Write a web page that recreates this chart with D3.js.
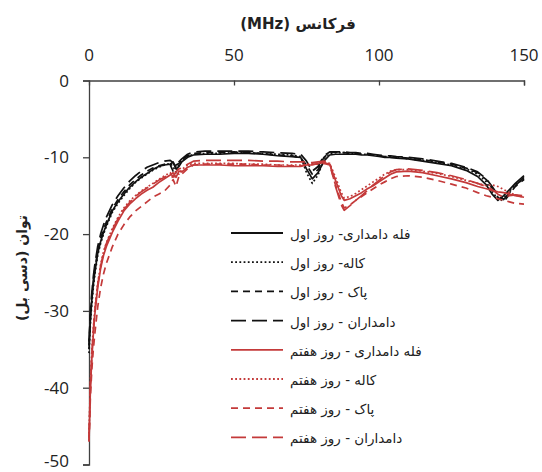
<!DOCTYPE html>
<html>
<head>
<meta charset="utf-8">
<script src="https://cdn.jsdelivr.net/npm/d3@7"></script>
<style>
html,body{margin:0;padding:0;background:#fff;}
svg{display:block;}
</style>
</head>
<body>
<svg id="chart" width="542" height="472"></svg>
<script>
// ---- data ----
const freq = [0,0.5,1,1.5,2,3,4,5,6,8,10,12,14,16,18,20,22,24,26,28,29,30,31,32,34,36,40,45,50,55,60,65,70,73,75,77,79,81,83,85,87,88,90,92,94,96,98,100,102,104,106,110,115,120,125,130,134,137,139,141,143,145,147,150];

const bulkDay1 = [-35,-31,-28.5,-26.5,-25,-22.5,-21,-19.8,-18.8,-17,-15.8,-14.8,-13.9,-13.2,-12.6,-12.1,-11.6,-11.2,-11.0,-10.9,-10.6,-11.5,-11.2,-10.6,-10.0,-9.7,-9.6,-9.6,-9.5,-9.5,-9.6,-9.8,-9.9,-10.0,-11.5,-12.8,-12.0,-10.5,-9.7,-9.6,-9.6,-9.6,-9.6,-9.6,-9.7,-9.7,-9.8,-9.9,-10.0,-10.0,-10.1,-10.2,-10.5,-10.8,-11.1,-11.7,-12.5,-13.6,-14.8,-15.6,-15.0,-14.2,-13.4,-12.4];
const kallehDay1 = [-35.5,-31.5,-29,-27,-25.3,-22.8,-21.2,-20,-19,-17.2,-16,-15,-14.1,-13.3,-12.7,-12.2,-11.7,-11.3,-11.0,-10.8,-11.2,-12.0,-10.9,-10.4,-9.9,-9.6,-9.5,-9.5,-9.4,-9.4,-9.5,-9.6,-9.7,-9.9,-12.0,-13.4,-12.3,-10.2,-9.5,-9.4,-9.4,-9.4,-9.5,-9.5,-9.6,-9.6,-9.7,-9.8,-9.9,-9.9,-10.0,-10.2,-10.4,-10.7,-11.0,-11.5,-12.2,-13.2,-14.5,-15.4,-15.3,-14.4,-13.6,-12.8];
const pakDay1 = [-34.5,-30.5,-28,-26,-24.6,-22.2,-20.6,-19.4,-18.4,-16.7,-15.5,-14.5,-13.6,-12.9,-12.3,-11.8,-11.4,-11.1,-10.9,-11.0,-11.8,-11.0,-10.8,-10.3,-9.8,-9.5,-9.4,-9.4,-9.3,-9.4,-9.5,-9.7,-9.8,-10.1,-11.0,-12.2,-11.6,-10.0,-9.4,-9.3,-9.4,-9.4,-9.5,-9.5,-9.6,-9.6,-9.7,-9.8,-9.9,-10.0,-10.0,-10.1,-10.3,-10.6,-10.9,-11.4,-12.0,-12.9,-14.0,-15.2,-15.8,-14.8,-13.8,-12.9];
const damdaranDay1 = [-34,-30,-27.5,-25.5,-24,-21.6,-20,-18.8,-17.8,-16.2,-15,-14,-13.1,-12.4,-11.8,-11.3,-11.0,-10.7,-10.5,-10.4,-10.7,-11.3,-10.6,-10.2,-9.6,-9.3,-9.2,-9.2,-9.2,-9.2,-9.3,-9.4,-9.5,-9.6,-10.5,-11.8,-11.2,-9.8,-9.3,-9.3,-9.3,-9.3,-9.4,-9.4,-9.5,-9.5,-9.6,-9.7,-9.8,-9.8,-9.9,-10.0,-10.2,-10.5,-10.8,-11.3,-11.9,-12.8,-13.8,-14.9,-15.5,-14.6,-13.7,-12.6];
const bulkDay7 = [-47,-40,-36,-33,-30.5,-27,-24.5,-22.8,-21.6,-19.8,-18.3,-17.0,-16.1,-15.4,-14.8,-14.3,-13.9,-13.3,-12.8,-12.3,-12.0,-12.6,-11.8,-11.9,-11.3,-11.0,-11.0,-11.0,-11.1,-11.1,-11.1,-11.2,-11.2,-11.2,-11.0,-11.0,-10.8,-10.7,-10.9,-13.0,-15.0,-15.6,-15.4,-15.0,-14.6,-14.1,-13.7,-13.2,-12.7,-12.2,-11.9,-11.8,-12.0,-12.4,-12.8,-13.3,-13.8,-14.1,-14.3,-14.5,-14.6,-14.8,-15.0,-15.2];
const kallehDay7 = [-46,-39,-35,-32.2,-29.8,-26.4,-24,-22.3,-21.1,-19.3,-17.8,-16.6,-15.7,-15.0,-14.4,-13.9,-13.4,-12.9,-12.4,-12.0,-12.8,-11.9,-12.2,-11.6,-11.0,-10.8,-10.8,-10.8,-10.8,-10.9,-10.9,-11.0,-11.0,-11.0,-10.9,-10.8,-10.7,-10.6,-10.8,-12.6,-14.6,-15.3,-15.1,-14.7,-14.2,-13.7,-13.2,-12.7,-12.2,-11.8,-11.6,-11.6,-11.8,-12.1,-12.5,-13.0,-13.4,-13.7,-13.6,-13.8,-14.2,-14.6,-14.9,-15.2];
const pakDay7 = [-47,-41,-37.5,-35,-33,-29.5,-27,-25.2,-23.8,-21.7,-20.0,-18.8,-17.8,-17.0,-16.4,-15.8,-15.2,-14.8,-14.4,-13.6,-12.9,-13.8,-12.5,-12.2,-11.5,-11.0,-10.9,-10.9,-10.9,-10.9,-11.0,-11.0,-11.1,-11.1,-11.0,-10.9,-10.9,-10.8,-11.0,-13.6,-15.8,-16.6,-16.2,-15.6,-15.1,-14.6,-14.1,-13.6,-13.2,-12.8,-12.5,-12.4,-12.6,-13.0,-13.5,-14.0,-14.6,-15.0,-15.2,-15.4,-15.6,-15.8,-16.0,-16.1];
const damdaranDay7 = [-46.5,-39.5,-35.5,-32.5,-30,-26.6,-24.2,-22.4,-21.2,-19.5,-18,-16.8,-15.9,-15.1,-14.5,-14.0,-13.5,-13.0,-12.6,-12.1,-12.5,-11.9,-11.5,-11.4,-10.9,-10.5,-10.4,-10.4,-10.4,-10.4,-10.5,-10.5,-10.6,-10.6,-10.6,-10.7,-10.6,-10.5,-10.7,-13.8,-16.2,-16.9,-16.3,-15.6,-15.0,-14.3,-13.6,-13.0,-12.4,-11.9,-11.6,-11.5,-11.7,-12.0,-12.4,-12.9,-13.4,-13.8,-14.2,-14.8,-15.2,-15.0,-14.9,-15.0];

const seriesNames = ["فله دامداری- روز اول","کاله- روز اول","پاک - روز اول","دامداران - روز اول","فله دامداری - روز هفتم","کاله - روز هفتم","پاک - روز هفتم","دامداران - روز هفتم"];
const seriesValues = [bulkDay1,kallehDay1,pakDay1,damdaranDay1,bulkDay7,kallehDay7,pakDay7,damdaranDay7];
const xTicks = [0,50,100,150];
const yTicks = [0,-10,-20,-30,-40,-50];
const xTitle = "فرکانس (MHz)";
const yTitle = "توان (دسی بل)";

// ---- styles ----
const black = "#111111", red = "#c43a3a";
const colors = [black,black,black,black,red,red,red,red];
const dashes = [null,"1.8,2.4","7,5","15,6",null,"1.8,2.4","7,5","15,6"];

const svg = d3.select("#chart");
const x = d3.scaleLinear().domain([0,150]).range([89,524]);
const y = d3.scaleLinear().domain([0,-50]).range([80.5,464.5]);
const axisColor = "#404040";
const numFont = "'Open Sans', 'Liberation Sans', sans-serif";
const faFont = "'DejaVu Sans', sans-serif";

// x axis (top)
const gx = svg.append("g").attr("transform",`translate(0,${y(0)})`)
  .call(d3.axisBottom(x).tickValues(xTicks).tickSize(5).tickFormat(""));
gx.select(".domain").attr("stroke",axisColor).attr("stroke-width",1.3);
gx.selectAll(".tick line").attr("stroke",axisColor).attr("stroke-width",1.3);
gx.selectAll(".tick").filter(d=>d===0).select("line").remove();
svg.append("g").selectAll("text").data(xTicks).join("text")
  .attr("x",d=>x(d)).attr("y",61).attr("text-anchor","middle")
  .attr("font-family",numFont).attr("font-size",17).attr("fill","#222")
  .text(d=>d);

// y axis
const gy = svg.append("g").attr("transform",`translate(${x(0)},0)`)
  .call(d3.axisLeft(y).tickValues(yTicks).tickSize(6).tickFormat(""));
gy.select(".domain").attr("stroke",axisColor).attr("stroke-width",1.3);
gy.selectAll(".tick line").attr("stroke",axisColor).attr("stroke-width",1.3);
svg.append("g").selectAll("text").data(yTicks).join("text")
  .attr("x",69).attr("y",d=>Math.min(y(d)+6, 467)).attr("text-anchor","end")
  .attr("font-family",numFont).attr("font-size",17).attr("fill","#222")
  .text(d=>d);

// titles
svg.append("text").attr("x",298).attr("y",29).attr("text-anchor","middle")
  .style("direction","rtl").attr("direction","rtl")
  .attr("font-family",faFont).attr("font-size",15).attr("font-weight","bold").attr("fill","#222")
  .text(xTitle);
svg.append("text").attr("transform","translate(27,268) rotate(-90)").attr("text-anchor","middle")
  .attr("font-family",faFont).attr("font-size",14).attr("font-weight","bold").attr("fill","#222")
  .text(yTitle);

// lines
const line = d3.line().x((d,i)=>x(freq[i])).y(d=>y(d));
const order = [0,1,2,3,4,5,6,7];
svg.append("g").selectAll("path").data(order).join("path")
  .attr("d",i=>line(seriesValues[i]))
  .attr("fill","none")
  .attr("stroke",i=>colors[i])
  .attr("stroke-width",1.7)
  .attr("stroke-linejoin","round")
  .attr("stroke-dasharray",i=>dashes[i]);

// legend
const lg = svg.append("g");
const rowY = i => 233 + i*29.2;
lg.selectAll("line").data(order).join("line")
  .attr("x1",231).attr("x2",283)
  .attr("y1",i=>rowY(i)).attr("y2",i=>rowY(i))
  .attr("stroke",i=>colors[i]).attr("stroke-width",1.8)
  .attr("stroke-dasharray",i=>dashes[i]);
lg.selectAll("text").data(order).join("text")
  .attr("x",290).attr("y",i=>rowY(i)+6)
  .attr("font-family",faFont).attr("font-size",13.5).attr("fill","#222")
  .text(i=>seriesNames[i]);
</script>
</body>
</html>
